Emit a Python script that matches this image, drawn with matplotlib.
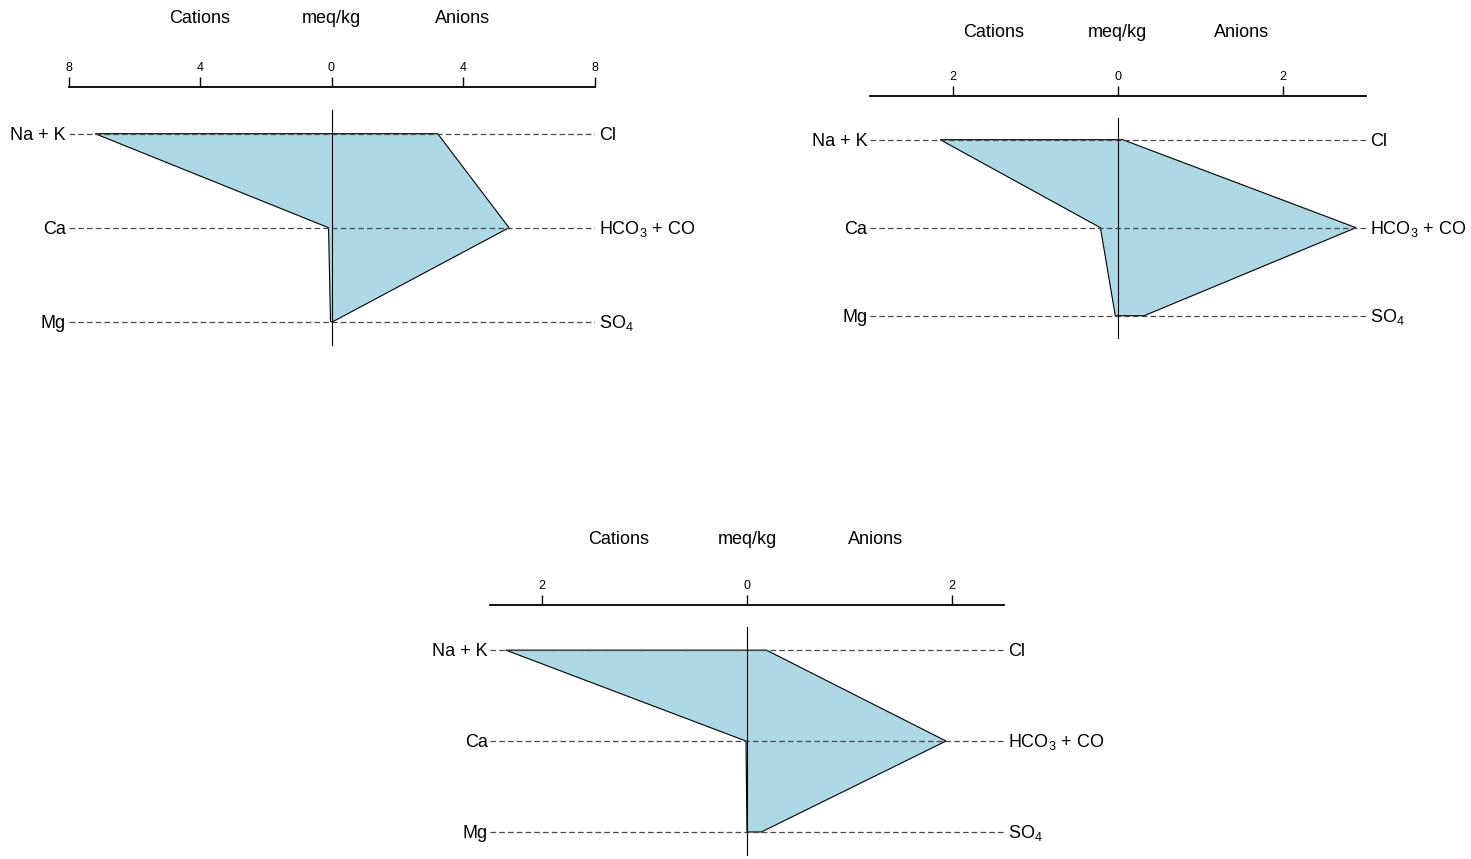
import matplotlib
matplotlib.use('Agg')
import numpy as np
import matplotlib.pyplot as plt

plt.rcParams['font.family'] = ['Liberation Sans', 'DejaVu Sans']
plt.rcParams['mathtext.default'] = 'regular'
plt.rcParams['font.size'] = 13

# ion names, top row first
cation_names = ['Na + K', 'Ca', 'Mg']
anion_names = ['Cl', 'HCO$_3$ + CO', 'SO$_4$']

# meq/kg
s1_cations = [7.19, 0.09, 0.03]
s1_anions = [3.23, 5.40, 0.04]
s2_cations = [2.15, 0.21, 0.03]
s2_anions = [0.06, 2.885, 0.32]
s3_cations = [2.35, 0.01, 0.0]
s3_anions = [0.19, 1.94, 0.14]

samples = [(s1_cations, s1_anions), (s2_cations, s2_anions), (s3_cations, s3_anions)]
x_limits = [8, 3, 2.5]
tick_vals = [[-8, -4, 0, 4, 8], [-2, 0, 2], [-2, 0, 2]]

# panel boxes in pixels: left, top, width, height
W, H = 1471, 859
boxes = [(68.5, 86.7, 526, 258.5), (870, 95.7, 495.5, 242), (490.5, 604.7, 513, 250)]
title_off = [46, 42.5, 44]

fig = plt.figure(figsize=(W/100, H/100), dpi=100)

rows = np.array([2, 1, 0])
for (cat, an), lim, tv, (l, t, w, h), toff in zip(samples, x_limits, tick_vals, boxes, title_off):
    ax = fig.add_axes([l/W, 1 - (t + h)/H, w/W, h/H])
    ax.set_xlim(-lim, lim)
    ax.set_ylim(-0.25, 2.5)

    xs = np.concatenate([-np.array(cat), np.array(an)[::-1]])
    ys = np.concatenate([rows, rows[::-1]])
    ax.fill(xs, ys, facecolor='#add8e6', edgecolor='black', lw=0.8, zorder=2)

    ax.hlines(rows, -lim, lim, colors='#4a4a4a', lw=0.9, linestyles=(0, (4.5, 2.5)), zorder=3)
    ax.plot([0, 0], [-0.25, 2.25], c='black', lw=0.8, zorder=4, clip_on=False)

    for r, cn, an_name in zip(rows, cation_names, anion_names):
        ax.annotate(cn, xy=(-lim, r), xytext=(-2, -1), textcoords='offset points',
                    ha='right', va='center')
        ax.annotate(an_name, xy=(lim, r), xytext=(3, -1), textcoords='offset points',
                    ha='left', va='center')

    for txt, xv in [('Cations', -lim/2), ('meq/kg', 0), ('Anions', lim/2)]:
        ax.annotate(txt, xy=(xv, 1), xycoords=('data', 'axes fraction'),
                    xytext=(0, toff), textcoords='offset points', ha='center', va='baseline')

    for s in ['left', 'right', 'bottom']:
        ax.spines[s].set_visible(False)
    ax.spines['top'].set_linewidth(1.3)
    ax.xaxis.tick_top()
    ax.set_xticks(tv)
    ax.set_xticklabels([str(abs(v)) for v in tv], fontsize=9)
    ax.tick_params(axis='x', direction='out', length=7, width=1.0, pad=2)
    ax.set_yticks([])

fig.savefig('out.png', dpi=100)
